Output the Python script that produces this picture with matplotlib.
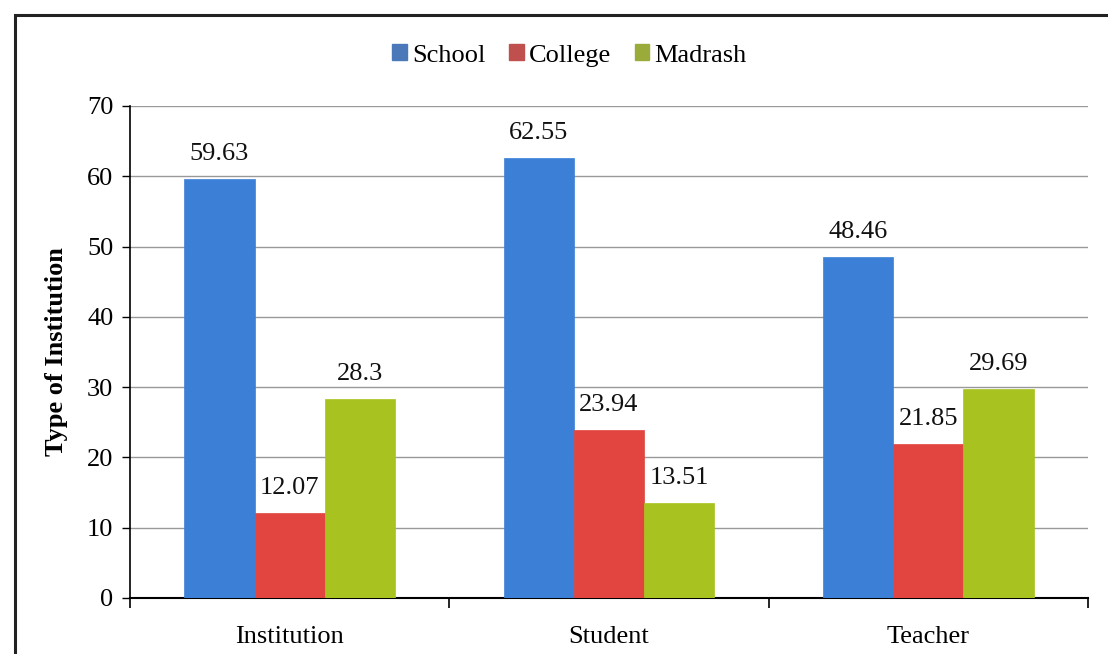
import matplotlib
matplotlib.use("Agg")
import matplotlib.pyplot as plt
from matplotlib.patches import Rectangle
import numpy as np

categories = ["Institution", "Student", "Teacher"]
series = ["School", "College", "Madrash"]
school = [59.63, 62.55, 48.46]
college = [12.07, 23.94, 21.85]
madrash = [28.3, 13.51, 29.69]
values = [school, college, madrash]
bar_colors = ["#3b80d6", "#e2443f", "#a8c21f"]
legend_colors = ["#4a78b8", "#c0504d", "#9bab3a"]
yticks = [0, 10, 20, 30, 40, 50, 60, 70]

plt.rcParams['font.family'] = ['Liberation Serif', 'DejaVu Serif']
FS = 19

fig = plt.figure(figsize=(11.08, 6.54), dpi=100)
fig.patches.append(Rectangle((15/1108, -0.05), 1.2, 1 - 15/654 + 0.05,
                             transform=fig.transFigure, fill=False,
                             edgecolor="#222222", linewidth=2.2))
ax = fig.add_axes([130/1108, 56/654, 958/1108, 492/654])

x = np.arange(len(categories))
w = 0.22
offsets = [-w, 0, w]
for vals, off, col, lab in zip(values, offsets, bar_colors, series):
    bars = ax.bar(x + off, vals, width=w, color=col, edgecolor=col, linewidth=0.5,
                  label=lab, zorder=3)
    for b, v in zip(bars, vals):
        ax.text(b.get_x() + b.get_width()/2, v + 2.0, f"{v:g}", ha="center",
                va="bottom", fontsize=FS, color="#111111")

ax.set_xlim(-0.5, 2.5)
ax.set_ylim(0, 70)
ax.set_yticks(yticks)
ax.set_xticks(x)
ax.set_xticklabels(categories, fontsize=FS)
ax.set_xticks([-0.5, 0.5, 1.5, 2.5], minor=True)
ax.tick_params(axis="x", which="major", length=0, pad=20)
ax.tick_params(axis="x", which="minor", length=7, width=1.2, direction="out")
ax.tick_params(axis="y", labelsize=FS, length=6, width=1.0, direction="out", pad=6)
ax.grid(axis="y", color="#999999", linewidth=1.0, zorder=0)
for s in ["top", "right"]:
    ax.spines[s].set_visible(False)
ax.spines["left"].set_linewidth(1.2)
ax.spines["bottom"].set_linewidth(1.5)
ax.set_ylabel("Type of Institution", fontsize=FS, fontweight="bold", labelpad=14)

handles = [Rectangle((0, 0), 1, 1, color=c) for c in legend_colors]
fig.legend(handles, series, loc="center", bbox_to_anchor=(0.514, 0.915), ncol=3,
           frameon=False, fontsize=FS, handlelength=0.55, handleheight=0.55,
           handletextpad=0.2, columnspacing=0.9)

fig.savefig("out.png", dpi=100, facecolor="white")
